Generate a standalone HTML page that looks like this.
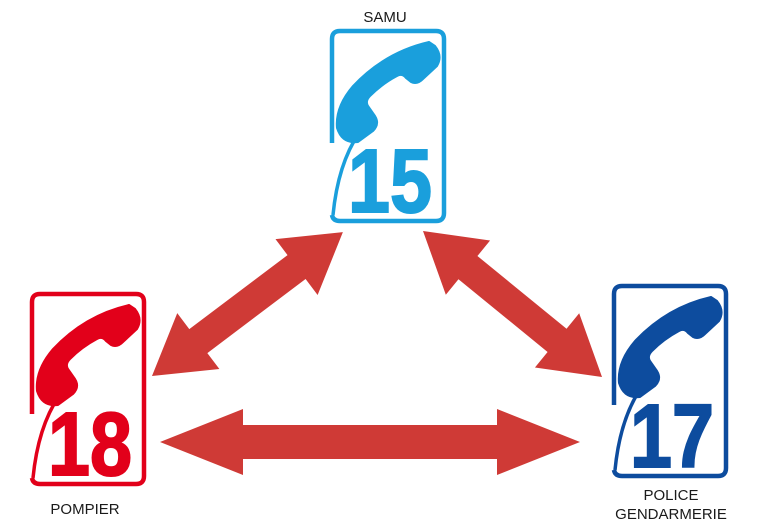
<!DOCTYPE html>
<html><head><meta charset="utf-8"><style>
html,body{margin:0;padding:0;background:#fff}
svg{display:block}
text{font-family:"Liberation Sans",sans-serif}
</style></head><body>
<svg width="768" height="528" viewBox="0 0 768 528" xmlns="http://www.w3.org/2000/svg">
<rect width="768" height="528" fill="#fff"/>

<g transform="translate(328,29)">
  <path d="M4,114 L4,10 Q4,2 12,2 L108,2 Q116,2 116,10 L116,184 Q116,192 108,192 L12,192 Q5,192 4,186" fill="none" stroke="#1a9fdc" stroke-width="4.5"/>
  <path d="M31,104 Q10,135 5,186" fill="none" stroke="#1a9fdc" stroke-width="3.5"/>
  <path transform="translate(-3,3)" d="M104,10 Q60,20 28,54 Q10,75 12,96 Q17,112 33,110 L48,99 Q55,92 50,84 L43,74 Q40,69 45,64 Q57,52 72,44 Q77,41 81,46 L86,50 Q92,53 98,47 L112,34 Q118,24 110,14 Z" fill="#1a9fdc" stroke="#1a9fdc" stroke-width="2" stroke-linejoin="round"/>
  <text x="20" y="183" font-size="90" font-weight="bold" fill="#1a9fdc" stroke="#1a9fdc" stroke-width="2" textLength="84" lengthAdjust="spacingAndGlyphs">15</text>
</g>

<g transform="translate(28,292)">
  <path d="M4,122 L4,10 Q4,2 12,2 L108,2 Q116,2 116,10 L116,184 Q116,192 108,192 L12,192 Q5,192 4,186" fill="none" stroke="#e2001a" stroke-width="4.5"/>
  <path d="M31,104 Q10,135 5,186" fill="none" stroke="#e2001a" stroke-width="3.5"/>
  <path transform="translate(-3,3)" d="M104,10 Q60,20 28,54 Q10,75 12,96 Q17,112 33,110 L48,99 Q55,92 50,84 L43,74 Q40,69 45,64 Q57,52 72,44 Q77,41 81,46 L86,50 Q92,53 98,47 L112,34 Q118,24 110,14 Z" fill="#e2001a" stroke="#e2001a" stroke-width="2" stroke-linejoin="round"/>
  <text x="20" y="183" font-size="90" font-weight="bold" fill="#e2001a" stroke="#e2001a" stroke-width="2" textLength="84" lengthAdjust="spacingAndGlyphs">18</text>
</g>

<g transform="translate(610,284)">
  <path d="M4,121 L4,10 Q4,2 12,2 L108,2 Q116,2 116,10 L116,184 Q116,192 108,192 L12,192 Q5,192 4,186" fill="none" stroke="#0d4c9e" stroke-width="4.5"/>
  <path d="M31,104 Q10,135 5,186" fill="none" stroke="#0d4c9e" stroke-width="3.5"/>
  <path transform="translate(-3,3)" d="M104,10 Q60,20 28,54 Q10,75 12,96 Q17,112 33,110 L48,99 Q55,92 50,84 L43,74 Q40,69 45,64 Q57,52 72,44 Q77,41 81,46 L86,50 Q92,53 98,47 L112,34 Q118,24 110,14 Z" fill="#0d4c9e" stroke="#0d4c9e" stroke-width="2" stroke-linejoin="round"/>
  <text x="20" y="183" font-size="90" font-weight="bold" fill="#0d4c9e" stroke="#0d4c9e" stroke-width="2" textLength="84" lengthAdjust="spacingAndGlyphs">17</text>
</g>

<g fill="#cf3a36">
  <path transform="translate(160,442)" d="M0,0 L83,-33 L83,-17 L337,-17 L337,-33 L420,0 L337,33 L337,17 L83,17 L83,33 Z"/>
  <path transform="translate(152,376) rotate(-37)" d="M0,0 L58,-35 L58,-15 L181,-15 L181,-35 L239,0 L181,35 L181,15 L58,15 L58,35 Z"/>
  <path transform="translate(423,231) rotate(39.2)" d="M0,0 L58,-35 L58,-15 L173,-15 L173,-35 L231,0 L173,35 L173,15 L58,15 L58,35 Z"/>
</g>

<g fill="#1a1a1a" font-size="15" text-anchor="middle">
  <text x="385" y="22">SAMU</text>
  <text x="85" y="514">POMPIER</text>
  <text x="671" y="500">POLICE</text>
  <text x="671" y="519">GENDARMERIE</text>
</g>
</svg>
</body></html>
